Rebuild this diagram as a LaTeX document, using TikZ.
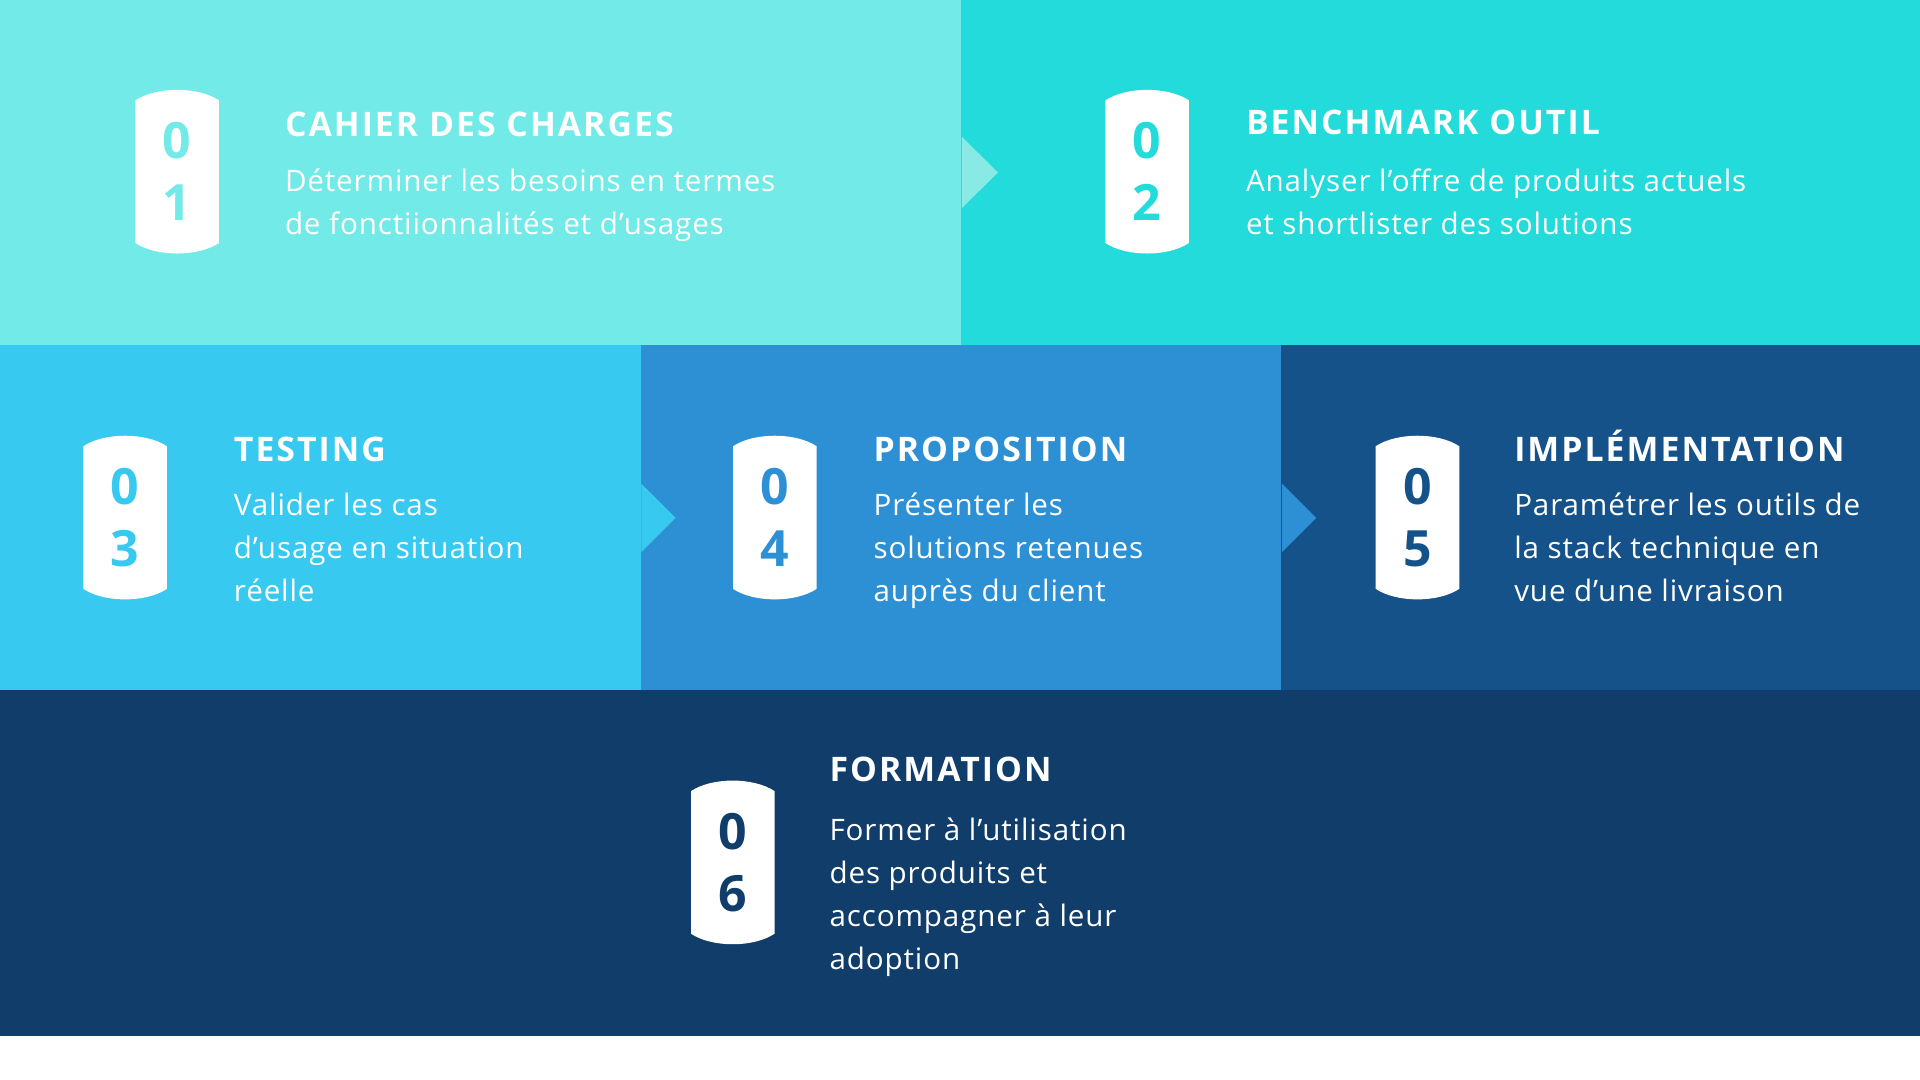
\documentclass[tikz,border=0pt]{standalone}
\usepackage{fontspec}
\setmainfont{Open Sans}[LetterSpace=3]
\usepackage{tikz}
\usetikzlibrary{calc, positioning}

\definecolor{cyanone}{HTML}{72EAE8}
\definecolor{cyantwo}{HTML}{22DBDA}
\definecolor{cyanarrow}{HTML}{88E9E5}
\definecolor{skyblue}{HTML}{38C9F0}
\definecolor{midblue}{HTML}{2D90D5}
\definecolor{deepblue}{HTML}{155289}
\definecolor{navyblue}{HTML}{103D69}

\begin{document}
\begin{tikzpicture}[x=0.01cm, y=-0.01cm,
  panel/.style={anchor=north west, inner sep=0pt, minimum height=3.45cm},
  badge/.style={fill=white, inner sep=0pt, minimum width=0.82cm, minimum height=1.41cm},
  digit/.style={font=\fontsize{14.2}{15}\selectfont\bfseries, inner sep=0pt},
  steptitle/.style={anchor=base west, inner sep=0pt, text=white, font=\fontsize{9.6}{11}\selectfont\bfseries\addfontfeatures{LetterSpace=6}},
  stepbody/.style={anchor=base west, inner sep=0pt, align=left, text=white, font=\fontsize{8.4}{12.2}\selectfont}]
  \useasboundingbox (1,1) rectangle (1919,1079);
  \fill[white] (0,1030) rectangle (1920,1080);

  % panels
  \node[panel, fill=cyantwo, minimum width=9.6cm] (p2) at (960,0) {};
  \node[panel, fill=cyanone, minimum width=9.6cm] (p1) at (0,0) {};
  \node[panel, fill=deepblue, minimum width=6.4cm] (p5) at (1280,345) {};
  \node[panel, fill=midblue, minimum width=6.4cm] (p4) at (640,345) {};
  \node[panel, fill=skyblue, minimum width=6.4cm] (p3) at (0,345) {};
  \node[panel, fill=navyblue, minimum width=19.2cm] (p6) at (0,690) {};

  % chevrons
  \fill[cyanarrow] ($(p1.east)+(0,-35.5)$) -- ($(p1.east)+(36,0)$) -- ($(p1.east)+(0,35.5)$) -- cycle;
  \fill[skyblue] ($(p3.east)+(0,-34)$) -- ($(p3.east)+(34,0)$) -- ($(p3.east)+(0,34)$) -- cycle;
  \fill[midblue] ($(p4.east)+(0,-34)$) -- ($(p4.east)+(34,0)$) -- ($(p4.east)+(0,34)$) -- cycle;

  % badges
  \foreach \n/\cx/\cy/\col in {1/178/172.5/cyanone, 2/1147/172.5/cyantwo, 3/126/518/skyblue, 4/775/518/midblue, 5/1417/518/deepblue, 6/733/862.5/navyblue} {
    \node[badge] (b\n) at (\cx,\cy) {};
    \fill[white] (b\n.north west) .. controls ($(b\n.north west)+(21,-14)$) and ($(b\n.north east)+(-21,-14)$) .. (b\n.north east)
      -- (b\n.south east) .. controls ($(b\n.south east)+(-21,14)$) and ($(b\n.south west)+(21,14)$) .. (b\n.south west) -- cycle;
    \node[digit, text=\col] (b\n-top) at ($(b\n.center)+(0,-31)$) {0};
    \node[digit, text=\col] (b\n-bot) at ($(b\n.center)+(0,31)$) {\n};
  }

  % titles and texts (body anchored on its last line)
  \foreach \n/\tx/\ty/\by/\head/\body in {
    1/285/137/235/{CAHIER DES CHARGES}/{Déterminer les besoins en termes\\de fonctiionnalités et d’usages},
    2/1245/135/235/{BENCHMARK OUTIL}/{Analyser l’offre de produits actuels\\et shortlister des solutions},
    3/234/462/602/{TESTING}/{Valider les cas\\d’usage en situation\\réelle},
    4/873/462/602/{PROPOSITION}/{Présenter les\\solutions retenues\\auprès du client},
    5/1513/462/602/{IMPLÉMENTATION}/{Paramétrer les outils de\\la stack technique en\\vue d’une livraison},
    6/829/782/969/{FORMATION}/{Former à l’utilisation\\des produits et\\accompagner à leur\\adoption}} {
    \node[steptitle] (t\n) at (\tx,\ty) {\head};
    \node[stepbody] (s\n) at (\tx,\by) {\body};
  }
\end{tikzpicture}
\end{document}
